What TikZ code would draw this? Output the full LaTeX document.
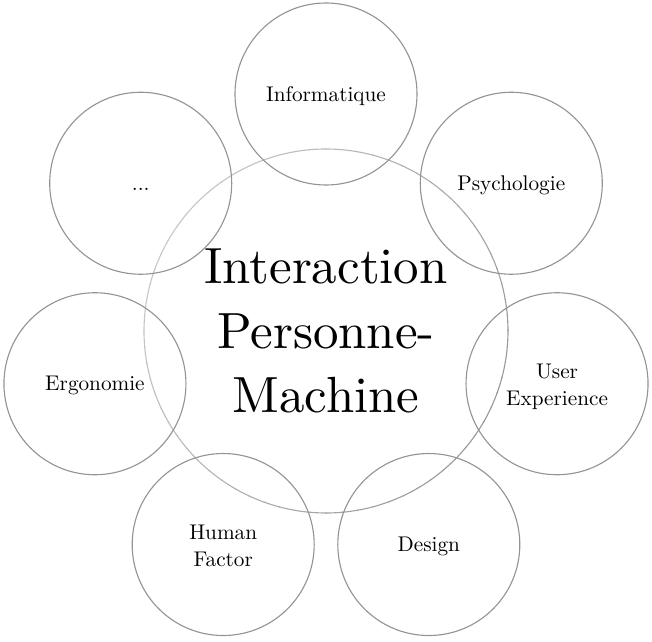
\documentclass[tikz,border=0pt]{standalone}
\usepackage{fontspec}
\setmainfont{lmroman10-regular}[Extension=.otf]
\usetikzlibrary{positioning}
\newcommand{\fieldstrut}{\vrule width 0pt height 14pt depth 4pt}
\tikzset{
  field/.style={circle, draw=black!42, line width=0.8pt, minimum size=4.55cm,
    inner sep=0pt, align=center, font=\fontsize{15.1}{19.2}\selectfont,
    execute at begin node=\fieldstrut, execute at end node=\fieldstrut},
  twoline/.style={text height=35pt, text depth=4pt},
  hub/.style={circle, minimum size=9.1cm, inner sep=0pt, align=center,
    font=\fontsize{36.2}{46}\selectfont},
}
\begin{document}
\begin{tikzpicture}
  \useasboundingbox (-8.15,-7.775) rectangle (8.15,8.275);
  % central circle, its outline fading toward the upper left
  \node[hub] (ipm) at (0,0) {Interaction\\Personne-\\Machine};
  \foreach \a in {0,5,...,355} {
    \pgfmathsetmacro{\tone}{31+9*cos(\a+30)}
    \draw[line width=0.8pt, black!\tone] (\a:4.55) arc[start angle=\a, end angle=\a+5.3, radius=4.55];
  }
  % surrounding fields
  \node[field] (info) at (90:5.925) {Informatique};
  \node[field] (psy) at (38.57:5.925) {Psychologie};
  \node[field, twoline] (ux) at (-12.86:5.925) {User\\Experience};
  \node[field] (design) at (-64.29:5.925) {Design};
  \node[field, twoline] (human) at (-115.71:5.925) {Human\\Factor};
  \node[field] (ergo) at (-167.14:5.925) {Ergonomie};
  \node[field] (more) at (141.43:5.925) {...};
\end{tikzpicture}
\end{document}
